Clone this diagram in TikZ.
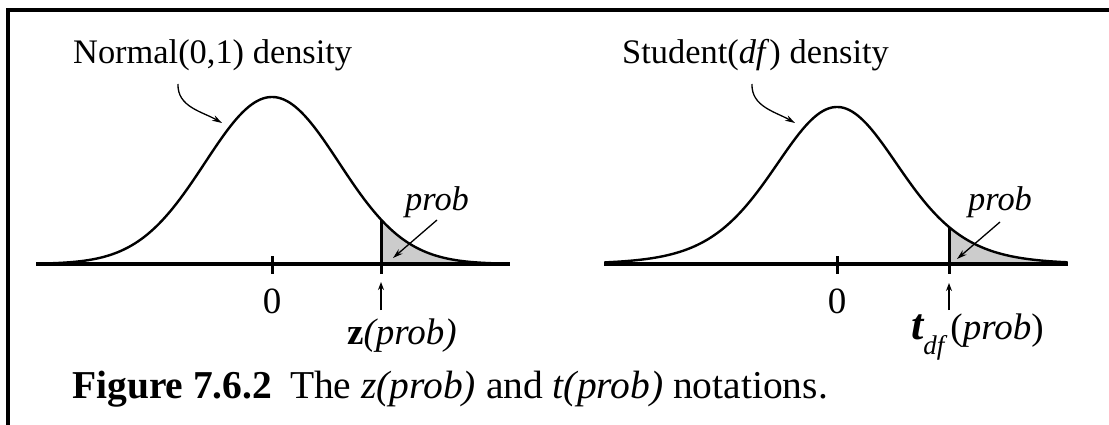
\documentclass[tikz,border=0pt]{standalone}
\usepackage{fontspec}
\setmainfont{Liberation Serif}
\usetikzlibrary{arrows.meta}
\begin{document}
\begin{tikzpicture}[x=1pt,y=-1pt,
  frameline/.style={line width=3.5pt},
  axisline/.style={line width=3.4pt},
  curve/.style={line width=2.4pt, line join=round},
  tickmark/.style={line width=3pt},
  pointer/.style={line width=1.3pt, -{Stealth[length=10pt,width=6pt]}},
  uparrow/.style={line width=1.8pt, -{Stealth[length=8pt,width=6pt]}},
  lbl/.style={font=\fontsize{34.4}{40}\selectfont, inner sep=0pt},
  biglbl/.style={font=\fontsize{37}{42}\selectfont, inner sep=0pt},
  caplbl/.style={font=\fontsize{39.5}{44}\selectfont, inner sep=0pt},
  tailfill/.style={fill=black!20}]
\useasboundingbox (0,0) rectangle (1109,425);
% frame
\draw[frameline] (8,425) -- (8,10) -- (1109,10);

% ---------- left: normal ----------
\fill[tailfill] (381,264) -- plot[domain=1.627:3.55,samples=60] ({272+67*\x},{264-167*exp(-(\x)*(\x)/2)}) -- cycle;
\draw[curve] plot[domain=-3.5:3.55,samples=160] ({272+67*\x},{264-167*exp(-(\x)*(\x)/2)});
\draw[axisline] (36,264) -- (510,264);
\draw[tickmark] (272,256) -- (272,274);
\draw[tickmark] (381,{264-167*exp(-(1.627*1.627)/2)}) -- (381,274);

\node[lbl, anchor=base west] (normlbl) at (73,64) {Normal(0,1) density};
\node[biglbl, anchor=base] (zeroL) at (272,313) {0};
\node[biglbl, anchor=base west] (zlbl) at (347,344) {\textbf{z}\textit{(prob)}};
\node[lbl, anchor=base west] (probL) at (405,211) {\textit{prob}};

\coordinate (nA) at (178,84);
\coordinate (nB) at (222,123);
\draw[pointer] (nA) to[out=-92,in=150] (nB);
\coordinate (pA) at (437,220);
\coordinate (pB) at (393,258);
\draw[pointer] (pA) -- (pB);
\coordinate (zA) at (381,310);
\coordinate (zB) at (381,282);
\draw[uparrow] (zA) -- (zB);

% ---------- right: student t ----------
\fill[tailfill] (949,264) -- plot[domain=1.734:3.57,samples=60] ({837+64.6*\x},{264-157*(1+(\x)*(\x)/10)^(-5.5)}) -- cycle;
\draw[curve] plot[domain=-3.6:3.57,samples=160] ({837+64.6*\x},{264-157*(1+(\x)*(\x)/10)^(-5.5)});
\draw[axisline] (604,264) -- (1068,264);
\draw[tickmark] (837,256) -- (837,274);
\draw[tickmark] (949,{264-157*(1+(1.734*1.734)/10)^(-5.5)}) -- (949,274);

\node[lbl, anchor=base west] (studlbl) at (622,64) {Student(\textit{df}) density};
\node[biglbl, anchor=base] (zeroR) at (837,313) {0};
\node[biglbl, anchor=base west] (tlbl) at (911,339) {{\fontsize{44}{44}\selectfont\bfseries\itshape t}\raisebox{-15pt}{\fontsize{27}{27}\selectfont\itshape df}\kern6pt(\textit{prob})};
\node[lbl, anchor=base west] (probR) at (968,211) {\textit{prob}};

\coordinate (sA) at (752,84);
\coordinate (sB) at (795,123);
\draw[pointer] (sA) to[out=-92,in=150] (sB);
\coordinate (qA) at (1000,222);
\coordinate (qB) at (957,259);
\draw[pointer] (qA) -- (qB);
\coordinate (tA) at (949,310);
\coordinate (tB) at (949,283);
\draw[uparrow] (tA) -- (tB);

% ---------- caption ----------
\node[caplbl, anchor=base west] (caption) at (72,398) {\textbf{Figure 7.6.2}\hspace{0.45em}The \textit{z(prob)} and \textit{t(prob)} notations.};
\end{tikzpicture}
\end{document}
